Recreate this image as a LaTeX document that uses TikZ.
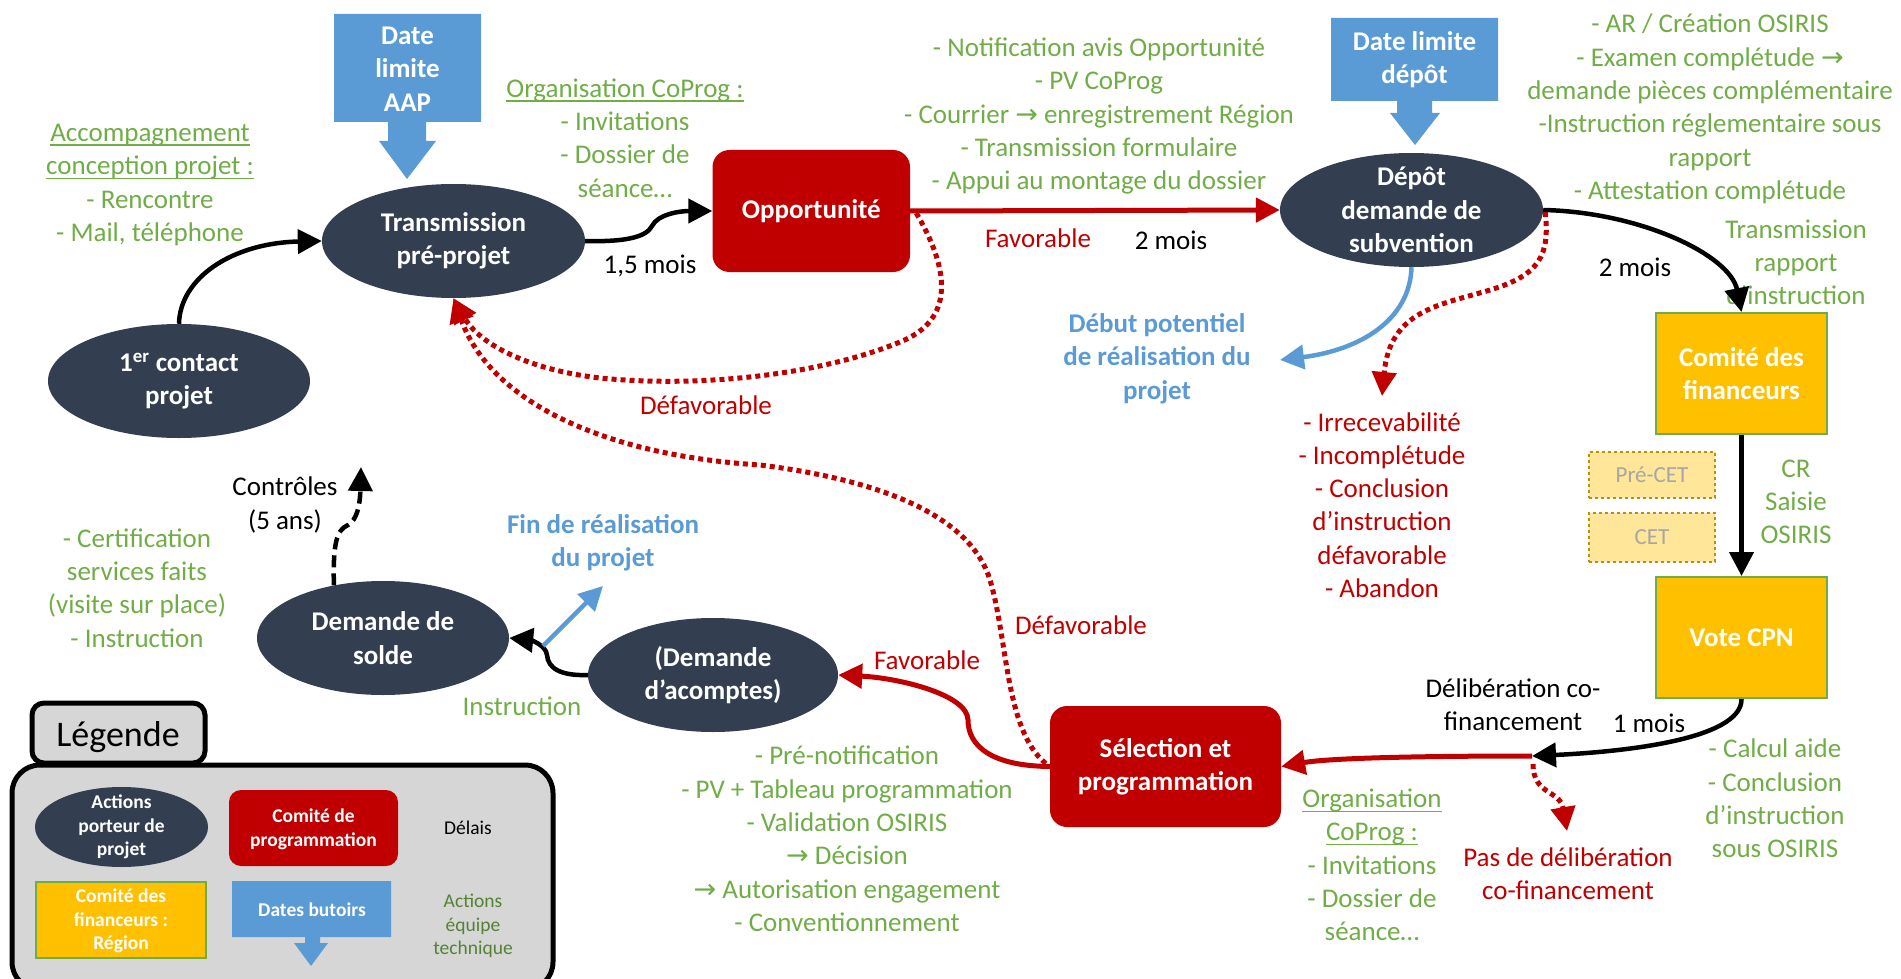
\documentclass[tikz,border=0pt]{standalone}
\usepackage{fontspec}
\setmainfont{Carlito}
\newfontfamily\djv{DejaVu Sans}
\usetikzlibrary{arrows.meta,shapes.geometric,calc}
\definecolor{navy}{HTML}{333F50}
\definecolor{cred}{HTML}{C00000}
\definecolor{cblue}{HTML}{5B9BD5}
\definecolor{cgreen}{HTML}{70AD47}
\definecolor{cgold}{HTML}{FFC000}
\definecolor{dgreen}{HTML}{548235}
\definecolor{lgray}{HTML}{D6D6D6}
\definecolor{pale}{HTML}{FFE699}
\definecolor{dgold}{HTML}{BF9000}
\definecolor{tgray}{HTML}{A6A6A6}
\newcommand\myul[1]{\setbox0\hbox{#1}\rlap{\rule[-4.5pt]{\wd0}{1.6pt}}\box0}
\newcommand\rar{{\djv →}}
\tikzset{
  txt/.style={inner sep=0pt, align=center, font=\fontsize{27}{33.3}\selectfont},
  txtb/.style={inner sep=0pt, align=center, font=\fontsize{27}{33.3}\selectfont\bfseries},
  legt/.style={inner sep=0pt, align=center, font=\fontsize{19.5}{23.7}\selectfont},
  legtb/.style={inner sep=0pt, align=center, font=\fontsize{19.5}{23.7}\selectfont\bfseries},
  gtext/.style={txt, text=cgreen},
  rtext/.style={txt, text=cred},
  ktext/.style={txt, text=black},
  btext/.style={txtb, text=cblue},
  wtext/.style={txtb, text=white},
  ell/.style={ellipse, fill=navy, inner sep=0pt},
  redbox/.style={rectangle, rounded corners=17pt, fill=cred, inner sep=0pt},
  goldbox/.style={rectangle, fill=cgold, draw=cgreen, line width=2pt, inner sep=0pt},
  cetbox/.style={rectangle, fill=pale, draw=dgold, dashed, line width=1.2pt, inner sep=0pt},
  headtip/.style={-{Triangle[length=24pt,width=24pt]}},
  karrow/.style={draw=black, line width=4.5pt, headtip},
  kdash/.style={draw=black, line width=4.5pt, dash pattern=on 12pt off 6pt, headtip},
  rarrow/.style={draw=cred, line width=5pt, headtip},
  rdot/.style={draw=cred, line width=5pt, dash pattern=on 5pt off 4pt, headtip},
  barrow/.style={draw=cblue, line width=4.5pt, headtip},
}
\begin{document}
\begin{tikzpicture}[x=1pt,y=-1pt]
\useasboundingbox (0,0) rectangle (1901,979);

% ---------- legend ----------
\draw[line width=5pt, fill=lgray, rounded corners=28pt] (12,765) rectangle (553,990);
\node[rectangle, draw=black, line width=5pt, fill=lgray, rounded corners=12pt, minimum width=173pt, minimum height=60pt] (legtab) at (118.5,733) {};
\node[txt, font=\fontsize{36}{40}\selectfont] (legtitle) at (118,737) {Légende};
\node[ell, minimum width=173pt, minimum height=80pt] (legell) at (121.5,827) {};
\node[legtb, text=white] (legellT) at (legell) {Actions\\porteur de\\projet};
\node[redbox, rounded corners=12pt, minimum width=169pt, minimum height=76pt] (legred) at (313.5,828) {};
\node[legtb, text=white] (legredT) at (313.5,829.5) {Comité de\\programmation};
\node[legt, text=black] (legdelais) at (468,828) {Délais};
\node[goldbox, minimum width=170pt, minimum height=76pt] (legyel) at (121,920) {};
\node[legtb, text=white] (legyelT) at (121,921) {Comité des\\financeurs :\\Région};
\fill[cblue] (232,881) -- (391,881) -- (391,937) -- (320,937) -- (320,943) -- (328,943) -- (311,966) -- (294,943) -- (305,943) -- (305,937) -- (232,937) -- cycle;
\node[legtb, text=white] (legblueT) at (312,910) {Dates butoirs};
\node[legt, text=dgreen] (legact) at (473,926) {Actions\\équipe\\technique};

% ---------- blue deadline boxes ----------
\fill[cblue] (334,14) -- (481,14) -- (481,122) -- (426,122) -- (426,141) -- (436,141) -- (407,179) -- (379,141) -- (388,141) -- (388,122) -- (334,122) -- cycle;
\node[wtext] (aap) at (407.5,69) {Date\\limite\\AAP};
\fill[cblue] (1331,18) -- (1498,18) -- (1498,101) -- (1432,101) -- (1432,113) -- (1440,113) -- (1415,145) -- (1390,113) -- (1397,113) -- (1397,101) -- (1331,101) -- cycle;
\node[wtext] (ddepot) at (1414.5,60) {Date limite\\dépôt};

% ---------- main nodes ----------
\node[ell, minimum width=262pt, minimum height=114pt] (contact) at (179,381) {};
\node[wtext] (contactT) at (contact) {1\textsuperscript{er} contact\\projet};
\node[ell, minimum width=263pt, minimum height=114pt] (trans) at (453.5,241) {};
\node[wtext] (transT) at (trans) {Transmission\\pré-projet};
\node[redbox, minimum width=197.5pt, minimum height=122pt] (opp) at (811.25,211) {};
\node[wtext] (oppT) at (opp) {Opportunité};
\node[ell, minimum width=263pt, minimum height=114pt] (depot) at (1411.5,210) {};
\node[wtext] (depotT) at (depot) {Dépôt\\demande de\\subvention};
\node[goldbox, minimum width=171pt, minimum height=121pt] (comite) at (1741.5,373.5) {};
\node[wtext] (comiteT) at (comite) {Comité des\\financeurs};
\node[goldbox, minimum width=171pt, minimum height=121pt] (vote) at (1741.5,637.5) {};
\node[wtext] (voteT) at (vote) {Vote CPN};
\node[cetbox, minimum width=126pt, minimum height=46pt] (precet) at (1652,475) {};
\node[txt, font=\fontsize{23}{26}\selectfont, text=tgray] (precetT) at (precet) {Pré-CET};
\node[cetbox, minimum width=126pt, minimum height=49pt] (cet) at (1652,537.5) {};
\node[txt, font=\fontsize{23}{26}\selectfont, text=tgray] (cetT) at (cet) {CET};
\node[redbox, minimum width=231pt, minimum height=121pt] (sel) at (1165.5,766.5) {};
\node[wtext] (selT) at (sel) {Sélection et\\programmation};
\node[ell, minimum width=250pt, minimum height=114pt] (acompte) at (713,675) {};
\node[wtext] (acompteT) at (acompte) {(Demande\\d’acomptes)};
\node[ell, minimum width=252pt, minimum height=114pt] (solde) at (383,638) {};
\node[wtext] (soldeT) at (solde) {Demande de\\solde};

% ---------- texts ----------
\node[gtext] (accomp) at (150,185) {\myul{Accompagnement}\\\myul{conception projet :}\\- Rencontre\\- Mail, téléphone};
\node[gtext] (orgtop) at (625,138) {\myul{Organisation CoProg :}\\- Invitations\\- Dossier de\\séance…};
\node[gtext] (notif) at (1099,116) {- Notification avis Opportunité\\- PV CoProg\\- Courrier \rar{} enregistrement Région\\- Transmission formulaire\\- Appui au montage du dossier};
\node[gtext] (topright) at (1710,109) {- AR / Création OSIRIS\\- Examen complétude \rar\\demande pièces complémentaire\\-Instruction réglementaire sous\\rapport\\- Attestation complétude};
\node[gtext] (transrap) at (1796,262.5) {Transmission\\rapport\\d’instruction};
\node[gtext] (crsaisie) at (1796,502) {CR\\Saisie\\OSIRIS};
\node[gtext] (calcul) at (1775,798.5) {- Calcul aide\\- Conclusion\\d’instruction\\sous OSIRIS};
\node[gtext] (orgbot) at (1372,865) {\myul{Organisation}\\\myul{CoProg :}\\- Invitations\\- Dossier de\\séance…};
\node[gtext] (prenotif) at (847,839) {- Pré-notification\\- PV + Tableau programmation\\- Validation OSIRIS\\\rar{} Décision\\\rar{} Autorisation engagement\\- Conventionnement};
\node[gtext] (instr) at (522,706) {Instruction};
\node[gtext] (certif) at (137,588) {- Certification\\services faits\\(visite sur place)\\- Instruction};

\node[rtext] (irrec) at (1382,505) {- Irrecevabilité\\- Incomplétude\\- Conclusion\\d’instruction\\défavorable\\- Abandon};
\node[rtext] (pasdelib) at (1568,874) {Pas de délibération\\co-financement};
\node[rtext] (fav1) at (1038,238) {Favorable};
\node[rtext] (defav1) at (706,405) {Défavorable};
\node[rtext] (defav2) at (1081,625) {Défavorable};
\node[rtext] (fav2) at (927,660) {Favorable};

\node[ktext] (mois15) at (650,266) {1,5 mois};
\node[ktext] (mois2a) at (1171,240) {2 mois};
\node[ktext] (mois2b) at (1635,267) {2 mois};
\node[ktext] (mois1) at (1649,723) {1 mois};
\node[ktext] (delib) at (1513,705) {Délibération co-\\financement};
\node[ktext] (controles) at (285,505) {Contrôles\\(5 ans)};

\node[btext] (debut) at (1157,358.5) {Début potentiel\\de réalisation du\\projet};
\node[btext] (finreal) at (603,542.5) {Fin de réalisation\\du projet};

% ---------- coordinates ----------
\coordinate (junc) at (1532,756);
\coordinate (debutend) at (1280,360);
\coordinate (irrecend) at (1382,396);
\coordinate (pasend) at (1567,831);
\coordinate (finstart) at (543,646);
\coordinate (finend) at (603,586);
\coordinate (ctrlend) at (361,467);

% ---------- connectors ----------
\draw[karrow] (contact.north) .. controls (180,278) and (232,243) .. (trans.west);
\draw[karrow] (trans.east) .. controls (622,242) and (646,238) .. (652,226) .. controls (658,214) and (680,211) .. (opp.west);
\draw[rarrow] (opp.east) -- (depot.west);
\draw[rdot] ($(opp.east)+(6,2)$) .. controls (950,270) and (955,320) .. (900,342) .. controls (820,375) and (700,388) .. (600,378) .. controls (530,370) and (480,345) .. (trans.south);
\draw[rdot] ($(sel.west)+(-4,-3)$) .. controls (1005,730) and (1008,640) .. (990,580) .. controls (970,515) and (880,480) .. (760,465) .. controls (600,455) and (490,400) .. (trans.south);
\draw[karrow] (depot.east) .. controls (1640,212) and (1730,255) .. (comite.north);
\draw[barrow] (depot.south) .. controls (1410,320) and (1360,350) .. (debutend);
\draw[rdot] ($(depot.east)+(2,2)$) .. controls (1550,255) and (1540,275) .. (1490,290) .. controls (1440,305) and (1390,310) .. (irrecend);
\draw[karrow] (comite.south) -- (vote.north);
\draw[karrow] (vote.south) .. controls (1742,740) and (1620,752) .. (junc);
\draw[rarrow] (junc) .. controls (1420,756) and (1330,758) .. (sel.east);
\draw[rdot] ($(junc)+(1,8)$) .. controls (1533,795) and (1560,790) .. (pasend);
\draw[rarrow] (sel.west) .. controls (990,766) and (968,745) .. (968,720) .. controls (968,695) and (900,678) .. (acompte.east);
\draw[karrow] (acompte.west) .. controls (560,676) and (548,668) .. (547,655) .. controls (546,645) and (530,640) .. (solde.east);
\draw[barrow] (finstart) -- (finend);
\draw[kdash] (solde.133) .. controls (333,545) and (336,530) .. (348,525) .. controls (357,520) and (360,505) .. (ctrlend);
\end{tikzpicture}
\end{document}
